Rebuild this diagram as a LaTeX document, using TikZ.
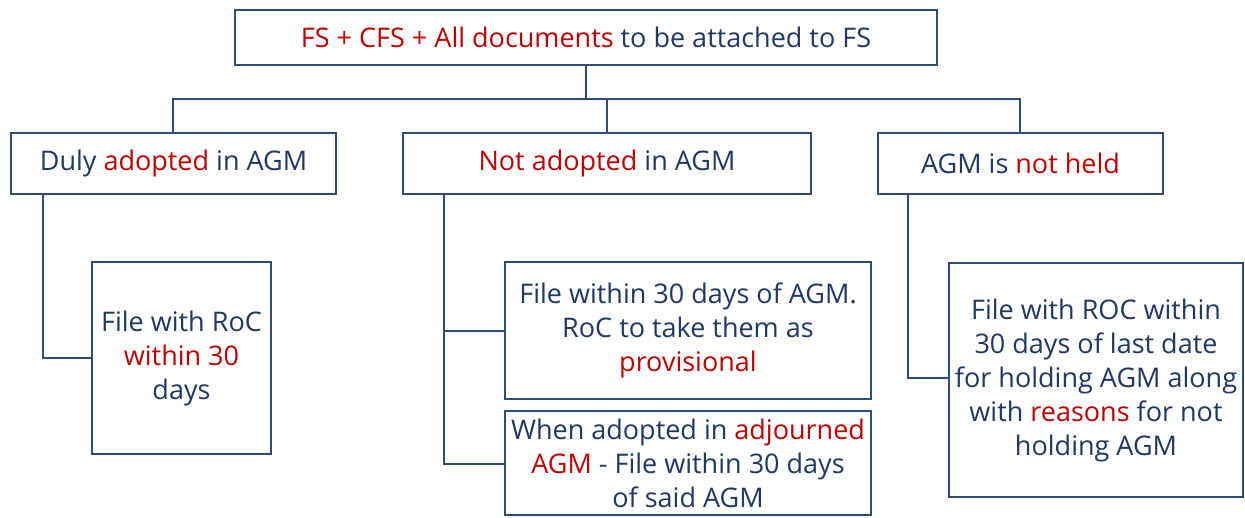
\documentclass[tikz,border=0pt]{standalone}
\usepackage{fontspec}
\setmainfont{Open Sans}
\definecolor{navy}{HTML}{1F3864}
\definecolor{linecol}{HTML}{2F4B7C}
\definecolor{hot}{HTML}{C00000}
\newcommand{\hl}[1]{\textcolor{hot}{#1}}
\tikzset{
  box/.style={draw=linecol, line width=2.7pt, fill=white, text=navy,
    align=center, inner sep=0pt, font=\fontsize{27}{34}\selectfont},
  link/.style={draw=linecol, line width=2.7pt}
}
\begin{document}
\begin{tikzpicture}[x=1pt, y=-1pt]
  \useasboundingbox (0,0) rectangle (1245,517);

  % boxes given by their corners
  \newcommand{\boxat}[6]{%
    \node[box, minimum width={#4-#2}, minimum height={#5-#3}]
      (#1) at ({(#2+#4)/2},{(#3+#5)/2}) {#6};}

  \boxat{top}{235}{10}{937}{65}{\hl{FS + CFS + All documents} to be attached to FS}
  \boxat{duly}{11}{133}{336}{194}{Duly \hl{adopted} in AGM}
  \boxat{notad}{403}{133}{811}{194}{\hl{Not adopted} in AGM}
  \boxat{nothld}{878}{133}{1163}{194}{AGM is \hl{not held}}
  \boxat{roc}{92}{262}{271}{454}{File with RoC\\\hl{within 30}\\days}
  \boxat{prov}{505}{262}{871}{399}{File within 30 days of AGM.\\RoC to take them as\\\hl{provisional}}
  \boxat{adj}{505}{411}{871}{515}{When adopted in \hl{adjourned}\\\hl{AGM} - File within 30 days\\of said AGM}
  \boxat{last}{949}{263}{1243}{497}{File with ROC within\\30 days of last date\\for holding AGM along\\with \hl{reasons} for not\\holding AGM}

  % tree connectors
  \coordinate (bus) at (586,99);
  \draw[link] (top.south -| bus) -- (bus);
  \draw[link] (duly.north -| 173,0) -- (173,99) -- (1020,99) -- (nothld.north -| 1020,0);
  \draw[link] (607,99) -- (notad.north -| 607,0);

  \draw[link] (duly.south -| 43,0) |- (roc.west |- 0,358);
  \draw[link] (notad.south -| 444,0) |- (adj.west |- 0,464);
  \draw[link] (444,331) -- (prov.west |- 0,331);
  \draw[link] (nothld.south -| 908,0) |- (last.west |- 0,378);
\end{tikzpicture}
\end{document}
